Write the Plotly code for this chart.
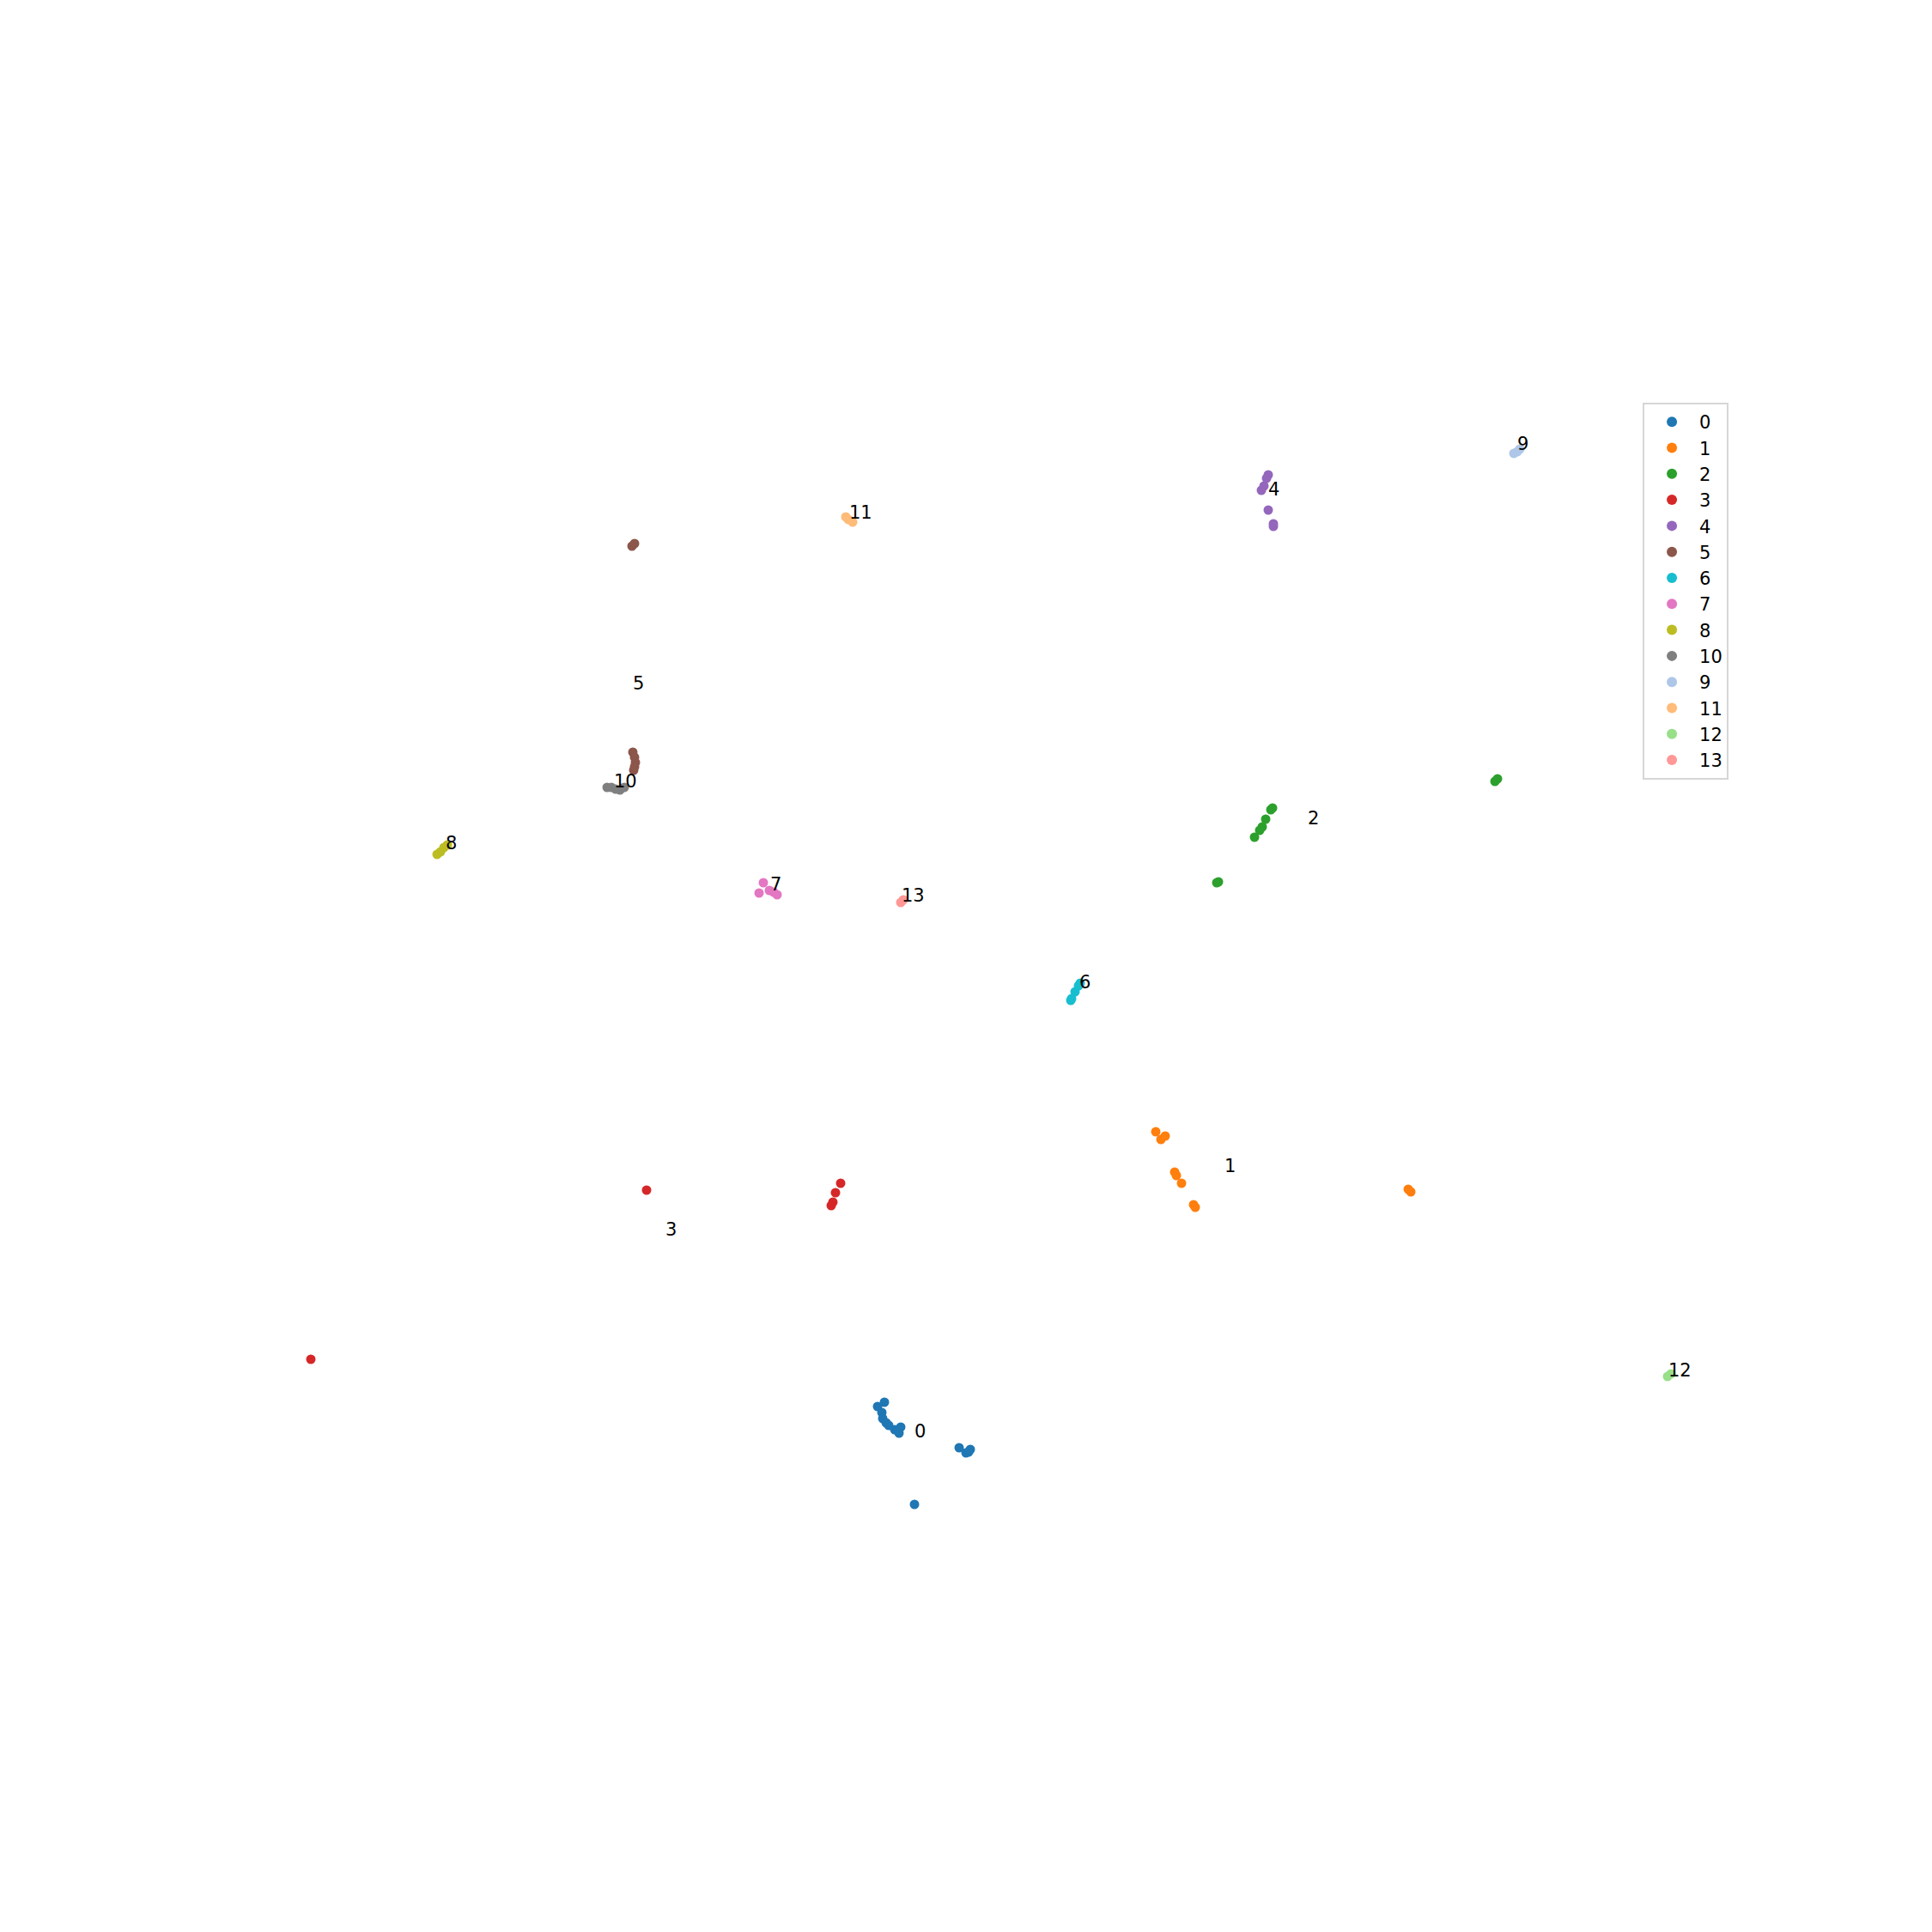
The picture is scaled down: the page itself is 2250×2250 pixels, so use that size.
import plotly.graph_objects as go

# Embedding coordinates per cluster (arbitrary units)
c0_x = [-1.03, -0.95, -0.98, -0.97, -0.93, -0.90, -0.83, -0.78, -0.76, -0.08, 0.00, 0.05, 0.03, -0.60]
c0_y = [-5.13, -5.08, -5.20, -5.27, -5.32, -5.35, -5.40, -5.44, -5.37, -5.61, -5.67, -5.63, -5.66, -6.27]
c1_x = [2.21, 2.27, 2.32, 2.43, 2.45, 2.51, 2.65, 2.67, 5.15, 5.18]
c1_y = [-1.93, -2.02, -1.98, -2.40, -2.44, -2.53, -2.78, -2.81, -2.60, -2.63]
c2_x = [3.55, 3.57, 3.49, 3.45, 3.42, 3.36, 2.94, 2.92, 6.16, 6.19]
c2_y = [1.82, 1.84, 1.71, 1.62, 1.58, 1.50, 0.98, 0.97, 2.15, 2.18]
c3_x = [-1.46, -1.52, -1.55, -1.57, -3.72, -7.63]
c3_y = [-2.53, -2.64, -2.75, -2.79, -2.61, -4.58]
c4_x = [3.52, 3.50, 3.47, 3.44, 3.52, 3.58, 3.58]
c4_y = [5.72, 5.68, 5.59, 5.54, 5.31, 5.12, 5.15]
c5_x = [-3.89, -3.86, -3.88, -3.86, -3.85, -3.86, -3.87]
c5_y = [4.89, 4.92, 2.49, 2.43, 2.37, 2.32, 2.28]
c6_x = [1.22, 1.23, 1.27, 1.31, 1.33]
c6_y = [-0.40, -0.38, -0.30, -0.23, -0.20]
c7_x = [-2.36, -2.41, -2.29, -2.24, -2.20]
c7_y = [0.97, 0.85, 0.88, 0.86, 0.83]
c8_x = [-6.16, -6.12, -6.08, -6.04]
c8_y = [1.30, 1.33, 1.38, 1.41]
c10_x = [-4.18, -4.13, -4.08, -4.03, -3.98]
c10_y = [2.08, 2.08, 2.06, 2.05, 2.08]
c9_x = [6.38, 6.42, 6.45]
c9_y = [5.97, 5.99, 6.02]
c11_x = [-1.40, -1.37, -1.32]
c11_y = [5.23, 5.20, 5.17]
c12_x = [8.17, 8.21]
c12_y = [-4.78, -4.75]
c13_x = [-0.76, -0.73]
c13_y = [0.74, 0.77]

cluster_names = ["0", "1", "2", "3", "4", "5", "6", "7", "8", "10", "9", "11", "12", "13"]
cluster_x = [c0_x, c1_x, c2_x, c3_x, c4_x, c5_x, c6_x, c7_x, c8_x, c10_x, c9_x, c11_x, c12_x, c13_x]
cluster_y = [c0_y, c1_y, c2_y, c3_y, c4_y, c5_y, c6_y, c7_y, c8_y, c10_y, c9_y, c11_y, c12_y, c13_y]
colors = ["#1f77b4", "#ff7f0e", "#2ca02c", "#d62728", "#9467bd", "#8c564b", "#17becf",
          "#e377c2", "#bcbd22", "#7f7f7f", "#aec7e8", "#ffbb78", "#98df8a", "#ff9896"]

# Cluster label positions
label_text = ["0", "1", "2", "3", "4", "5", "6", "7", "8", "10", "9", "11", "12", "13"]
label_x = [-0.54, 3.07, 4.04, -3.44, 3.58, -3.82, 1.38, -2.22, -6.00, -3.97, 6.48, -1.23, 8.31, -0.62]
label_y = [-5.42, -2.33, 1.72, -3.07, 5.55, 3.29, -0.19, 0.95, 1.43, 2.15, 6.08, 5.28, -4.71, 0.82]

fig = go.Figure()
for name, xs, ys, col in zip(cluster_names, cluster_x, cluster_y, colors):
    fig.add_trace(go.Scatter(
        x=xs, y=ys, mode="markers", name=name,
        marker=dict(size=11, color=col, line=dict(width=0)),
    ))

for t, x, y in zip(label_text, label_x, label_y):
    fig.add_annotation(x=x, y=y, text=t, showarrow=False,
                       font=dict(size=21, color="black", family="DejaVu Sans"),
                       xanchor="center", yanchor="middle")

fig.update_layout(
    width=2250, height=2250,
    margin=dict(l=0, r=0, t=0, b=0),
    paper_bgcolor="white", plot_bgcolor="white",
    xaxis=dict(range=[-11.17, 11.33], visible=False),
    yaxis=dict(range=[-11.33, 11.17], visible=False),
    font=dict(family="DejaVu Sans", size=21, color="black"),
    legend=dict(x=0.8467, y=0.7951, xanchor="left", yanchor="top",
                bordercolor="#d6d6d6", borderwidth=2, bgcolor="white",
                font=dict(size=21), itemsizing="constant", itemwidth=54,
                tracegroupgap=0),
    showlegend=True,
)

fig.write_html("out.html")
